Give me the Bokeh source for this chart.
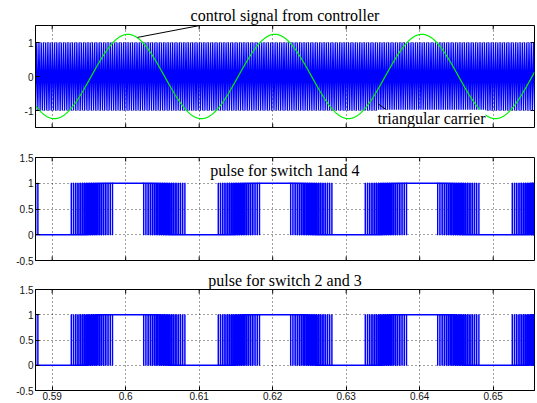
import numpy as np
from bokeh.plotting import figure
from bokeh.layouts import column
from bokeh.models import Range1d, Label, Arrow, LinearAxis, FixedTicker, Grid
from bokeh.embed import file_html
from bokeh.resources import INLINE

# Time window shown on every panel (s)
t_start = 0.58773
t_end = 0.65562

# Control signal from the controller (sinusoid, over-modulated)
control_freq_hz = 50.0
control_amplitude = 1.24
control_peak_time = 0.6003

# Triangular carrier
carrier_freq_hz = 3300.0
carrier_amplitude = 1.0
carrier_peak_time = 0.5876

# Axis ticks and their labels
x_ticks = [0.59, 0.60, 0.61, 0.62, 0.63, 0.64, 0.65]
x_tick_labels = ["0.59", "0.6", "0.61", "0.62", "0.63", "0.64", "0.65"]
top_y_ticks = [-1, 0, 1]
top_y_tick_labels = ["-1", "0", "1"]
pulse_y_ticks = [-0.5, 0, 0.5, 1, 1.5]
pulse_y_tick_labels = ["-0.5", "0", "0.5", "1", "1.5"]

BLUE = "#0000ff"
GREEN = "#00f000"
TICK_FONT = "Liberation Sans"
TEXT_FONT = "Liberation Serif"
FRAME_W = 499
TICK_LEN = 4


def control_signal(t):
    return control_amplitude * np.cos(2 * np.pi * control_freq_hz * (t - control_peak_time))


def carrier_signal(t):
    u = np.mod((t - carrier_peak_time) * carrier_freq_hz, 1.0)
    return carrier_amplitude * (1 - 4 * np.minimum(u, 1 - u))


# Carrier drawn through its exact vertices
half = 0.5 / carrier_freq_hz
k0 = int(np.floor((t_start - carrier_peak_time) / half)) - 1
k1 = int(np.ceil((t_end - carrier_peak_time) / half)) + 1
ks = np.arange(k0, k1 + 1)
carrier_t = carrier_peak_time + ks * half
carrier_v = np.where(ks % 2 == 0, carrier_amplitude, -carrier_amplitude)

control_t = np.linspace(t_start, t_end, 3000)
control_v = control_signal(control_t)

# Gate pulses: high while the control signal is above the carrier
fine_t = np.arange(t_start, t_end, 2e-7)
state = (control_signal(fine_t) > carrier_signal(fine_t)).astype(float)
change = np.nonzero(np.diff(state))[0] + 1
px = [fine_t[0]]
py = [state[0]]
for i in change:
    px += [fine_t[i], fine_t[i]]
    py += [state[i - 1], state[i]]
px.append(fine_t[-1])
py.append(state[-1])
pulse_14_t, pulse_14_v = np.array(px), np.array(py)
pulse_23_t, pulse_23_v = pulse_14_t.copy(), pulse_14_v.copy()


def style_axis(ax, ticks, labels):
    ax.ticker = FixedTicker(ticks=ticks)
    ax.major_label_overrides = {t: l for t, l in zip(ticks, labels)}
    ax.axis_line_color = "black"
    ax.major_tick_line_color = "black"
    ax.major_tick_in = TICK_LEN
    ax.major_tick_out = 0
    ax.minor_tick_line_color = None
    ax.major_label_text_font = TICK_FONT
    ax.major_label_text_color = "#111111"
    ax.major_label_text_font_size = "10px"
    ax.major_label_standoff = 2


def make_panel(height, top, bottom, frame_h, y_lo, y_hi, yticks, ylabels, x_labels):
    p = figure(width=537, height=height, output_backend="svg", toolbar_location=None,
               x_range=Range1d(t_start, t_end), y_range=Range1d(y_lo, y_hi),
               x_axis_type=None, y_axis_type=None,
               min_border_left=35, min_border_right=3,
               min_border_top=top, min_border_bottom=bottom)
    p.outline_line_color = "black"
    p.outline_line_width = 1
    p.background_fill_color = "white"
    p.border_fill_color = "white"

    ly = LinearAxis()
    style_axis(ly, yticks, ylabels)
    p.add_layout(ly, "left")
    if x_labels:
        bx = LinearAxis()
        style_axis(bx, x_ticks, x_tick_labels)
        bx.major_label_standoff = 1
        p.add_layout(bx, "below")

    for dim, ticks in ((0, x_ticks), (1, yticks)):
        g = Grid(dimension=dim, ticker=FixedTicker(ticks=ticks))
        g.grid_line_color = "black"
        g.grid_line_dash = "1 3"
        g.grid_line_alpha = 0.75
        g.grid_line_width = 1
        p.add_layout(g)

    # inward tick marks on the remaining frame edges
    dy = TICK_LEN / frame_h * (y_hi - y_lo)
    dx = TICK_LEN / FRAME_W * (t_end - t_start)
    xt = np.array(x_ticks)
    p.segment(xt, [y_hi] * len(xt), xt, [y_hi - dy] * len(xt), line_color="black", line_width=1)
    if not x_labels:
        p.segment(xt, [y_lo] * len(xt), xt, [y_lo + dy] * len(xt), line_color="black", line_width=1)
    yt = np.array(yticks, dtype=float)
    p.segment([t_end] * len(yt), yt, [t_end - dx] * len(yt), yt, line_color="black", line_width=1)
    return p


def set_title(p, text, offset, standoff):
    p.title.text = text
    p.title.align = "center"
    p.title.offset = offset
    p.title.standoff = standoff
    p.title.text_font = TEXT_FONT
    p.title.text_font_size = "16px"
    p.title.text_font_style = "normal"
    p.title.text_color = "black"


# Panel 1: carrier and control signal
p1 = make_panel(128, 25, 1, 102, -1.5, 1.5, top_y_ticks, top_y_tick_labels, False)
set_title(p1, "control signal from controller", -7, 3)
p1.line(carrier_t, carrier_v, line_color=BLUE, line_width=1.3)
p1.line(control_t, control_v, line_color=GREEN, line_width=1.2)
p1.add_layout(Arrow(x_start=0.60161, y_start=1.15, x_end=0.61371, y_end=1.65,
                    end=None, line_color="black", line_width=1))
p1.add_layout(Arrow(x_start=0.63583, y_start=-1.04, x_end=0.63433, y_end=-0.80,
                    end=None, line_color="black", line_width=1))
p1.add_layout(Label(x=0.64161, y=-1.23, text="triangular carrier",
                    text_font=TEXT_FONT, text_font_size="16px", text_color="black",
                    text_align="center", text_baseline="middle",
                    background_fill_color="white"))

# Panel 2: pulses for switches 1 and 4
p2 = make_panel(139, 29, 7, 103, -0.5, 1.5, pulse_y_ticks, pulse_y_tick_labels, False)
p2.line(pulse_14_t, pulse_14_v, line_color=BLUE, line_width=1.4)
p2.add_layout(Label(x=0.62167, y=1.25, text="pulse for switch 1and 4",
                    text_font=TEXT_FONT, text_font_size="16px", text_color="black",
                    text_align="center", text_baseline="middle"))

# Panel 3: pulses for switches 2 and 3
p3 = make_panel(136, 22, 13, 101, -0.5, 1.5, pulse_y_ticks, pulse_y_tick_labels, True)
set_title(p3, "pulse for switch 2 and 3", 2, 2)
p3.line(pulse_23_t, pulse_23_v, line_color=BLUE, line_width=1.4)

layout = column(p1, p2, p3, spacing=0)
open("out.html", "w").write(file_html(layout, INLINE))
